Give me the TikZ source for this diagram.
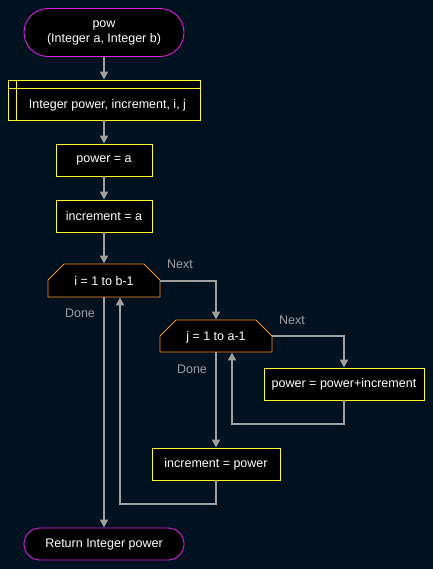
\documentclass[tikz,border=0pt]{standalone}
\usepackage{fontspec}
\setmainfont{Liberation Sans}
\usetikzlibrary{arrows.meta}
\definecolor{bg}{HTML}{00111F}
\definecolor{termc}{HTML}{E020E0}
\definecolor{procc}{HTML}{FFFF20}
\definecolor{loopc}{HTML}{FF9030}
\definecolor{linec}{HTML}{A0A0A0}
\begin{document}
\begin{tikzpicture}[x=1pt,y=-1pt,
  base/.style={fill=black, text=white, font=\fontsize{12.5}{15}\selectfont, inner sep=0pt, align=center, line width=0.9pt},
  term/.style={base, draw=termc},
  proc/.style={base, draw=procc},
  loopbox/.style={base, fill=none, draw=none},
  txt/.style={text=white, font=\fontsize{12.5}{15}\selectfont, inner sep=0pt},
  lbl/.style={text=linec, font=\fontsize{12.5}{14}\selectfont, inner sep=0pt},
  arrow/.style={draw=linec, line width=2pt, -{Triangle[width=8pt,length=8pt]}}]
\fill[bg] (0,0) rectangle (433,569);
\useasboundingbox (0,0) rectangle (433,569);

% start terminal
\node[term, minimum width=160pt, minimum height=48pt, rounded corners=24pt] (start) at (104,32.5) {pow\\(Integer a, Integer b)};

% declaration
\node[proc, minimum width=192pt, minimum height=40pt] (decl) at (104,100) {};
\draw[procc, line width=0.9pt] (16,80) -- (16,120) (8,88) -- (200,88);
\node[txt] (decltext) at (107.5,105) {Integer power, increment, i, j};

\node[proc, minimum width=96pt, minimum height=32pt] (p1) at (104,160) {power = a};
\node[proc, minimum width=96pt, minimum height=32pt] (p2) at (104,216) {increment = a};

% i loop
\node[loopbox, minimum width=112pt, minimum height=33pt] (iloop) at (104,280.5) {};
\filldraw[fill=black, draw=loopc, line width=0.9pt] (48,297) -- (48,280) -- (64,264) -- (144,264) -- (160,280) -- (160,297) -- cycle;
\node[txt] (itext) at (104,281) {i = 1 to b-1};

% j loop
\node[loopbox, minimum width=112pt, minimum height=32pt] (jloop) at (216,336) {};
\filldraw[fill=black, draw=loopc, line width=0.9pt] (160,352) -- (160,336) -- (176,320) -- (256,320) -- (272,336) -- (272,352) -- cycle;
\node[txt] (jtext) at (216,337) {j = 1 to a-1};

\node[proc, minimum width=160pt, minimum height=32pt] (pp) at (344,384) {power = power+increment};
\node[proc, minimum width=128pt, minimum height=32pt] (ip) at (216,464) {increment = power};

\node[term, minimum width=160pt, minimum height=32pt, rounded corners=16pt] (stop) at (104,544) {Return Integer power};

% labels
\node[lbl] (inext) at (180,264.5) {Next};
\node[lbl] (idone) at (80,313) {Done};
\node[lbl] (jnext) at (292,320.5) {Next};
\node[lbl] (jdone) at (192,369) {Done};

% connectors
\draw[arrow] (start) -- (decl);
\draw[arrow] (decl) -- (p1);
\draw[arrow] (p1) -- (p2);
\draw[arrow] (p2) -- (iloop);
\draw[arrow] (iloop.east) -| (jloop.north);
\draw[arrow] (jloop.east) -| (pp.north);
\draw[arrow] (pp.south) -- ++(0,24) -| ([xshift=16pt]jloop.south);
\draw[arrow] (jloop.south) -- (ip.north);
\draw[arrow] (ip.south) -- ++(0,24) -| ([xshift=16pt]iloop.south);
\draw[arrow] (iloop.south) -- (stop.north);
\end{tikzpicture}
\end{document}
